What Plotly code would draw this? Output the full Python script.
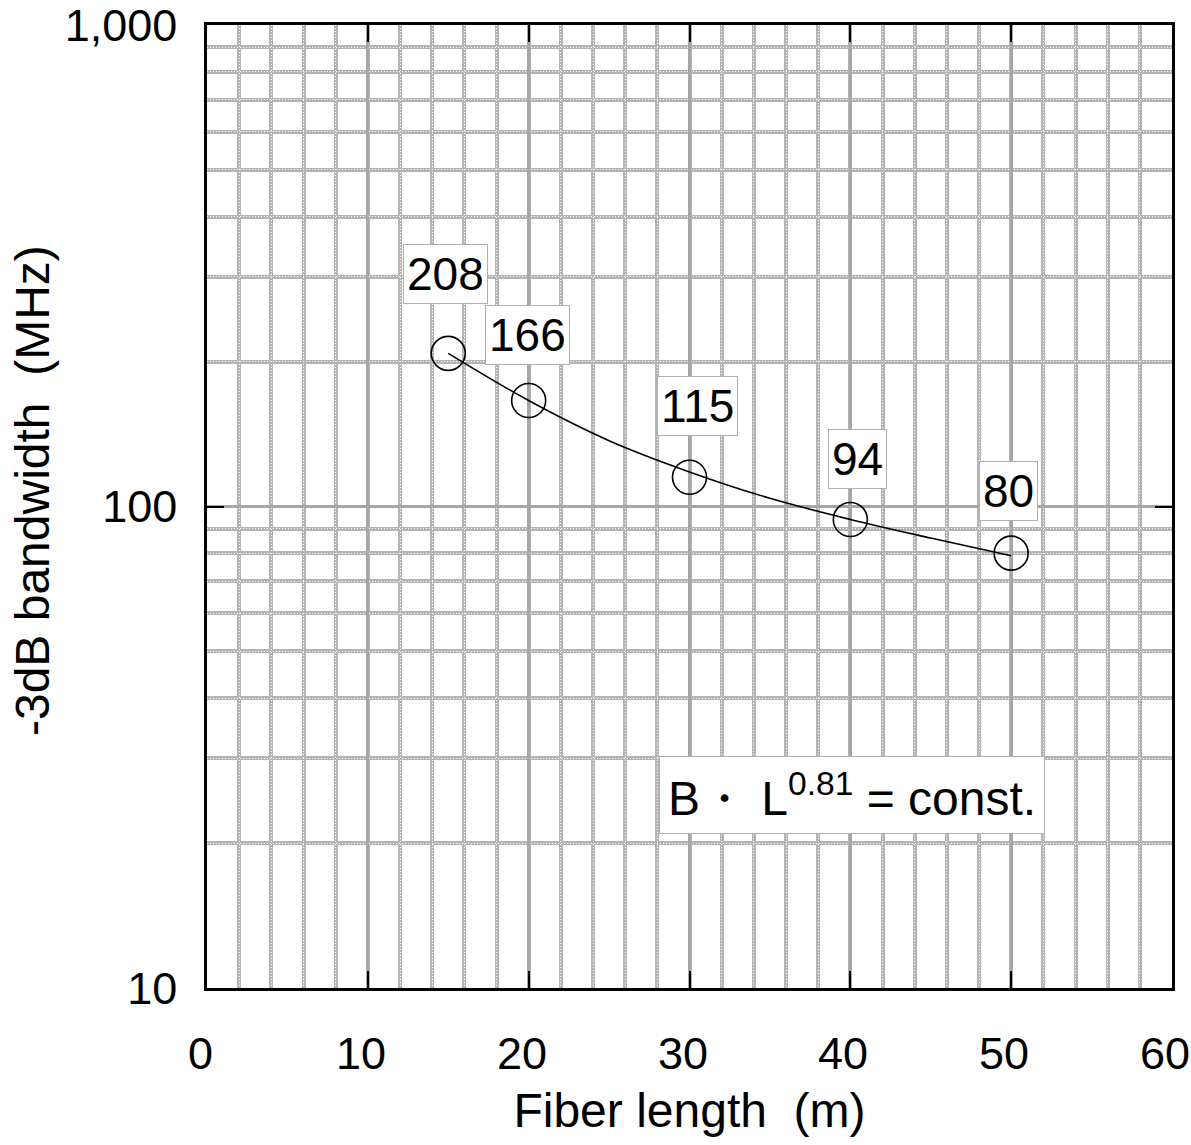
import math
import plotly.graph_objects as go

# Measured bandwidth vs. fiber length
fiber_length_m = [15, 20, 30, 40, 50]
bandwidth_mhz = [208, 166, 115, 94, 80]
point_labels = ["208", "166", "115", "94", "80"]

# Fitted curve B * L^0.81 = const.
fit_length_m = [15, 20, 25, 30, 35, 40, 45, 50]
fit_bandwidth_mhz = [208, 166, 137, 118, 104, 94, 86, 79]

x_tickvals = [0, 10, 20, 30, 40, 50, 60]
x_ticktext = ["0", "10", "20", "30", "40", "50", "60"]
y_tickvals = [10, 100, 1000]
y_ticktext = ["10", "100", "1,000"]
y_minorvals = [20, 30, 40, 50, 60, 70, 80, 90, 200, 300, 400, 500, 600, 700, 800, 900]

# label offsets (px) above each marker
label_dx = [-3, -1, 8, 7, -3]
label_dy = [79, 66, 71, 60, 62]

FONT = "Liberation Sans, Arial, sans-serif"
GRID_MAJOR = "#a6a6a6"
GRID_MINOR = "#b4b4b4"

# plot area in pixels
W, H = 1191, 1145
ML, MR, MT, MB = 207, 19, 25, 157
PW, PH = W - ML - MR, H - MT - MB

fig = go.Figure()

fig.add_trace(go.Scatter(
    x=fit_length_m, y=fit_bandwidth_mhz, mode="lines",
    line=dict(color="black", width=1.6, shape="spline"),
    hoverinfo="skip", showlegend=False,
))
fig.add_trace(go.Scatter(
    x=fiber_length_m, y=bandwidth_mhz, mode="markers",
    marker=dict(symbol="circle-open", size=34, color="black", line=dict(width=1.6, color="black")),
    showlegend=False,
))
# empty trace to carry the overlay axes (white dots on the minor grid)
fig.add_trace(go.Scatter(x=[None], y=[None], xaxis="x2", yaxis="y2", showlegend=False))

for L, B, txt, dx, dy in zip(fiber_length_m, bandwidth_mhz, point_labels, label_dx, label_dy):
    fig.add_annotation(
        x=L, y=math.log10(B), yref="y", xref="x", text=txt, showarrow=False,
        xshift=dx, yshift=dy,
        font=dict(family=FONT, size=46, color="black"),
        bgcolor="white", bordercolor="#b0b0b0", borderwidth=1, borderpad=3,
    )

# x tick labels, set slightly left of their gridlines
for v, t in zip(x_tickvals, x_ticktext):
    fig.add_annotation(
        x=v, y=0, xref="x", yref="paper", text=t, showarrow=False,
        xanchor="center", yanchor="middle", xshift=-7, yshift=-65,
        font=dict(family=FONT, size=45, color="black"),
    )

# y axis title
fig.add_annotation(
    x=(32 - ML) / PW, y=(MT + PH - 491) / PH, xref="paper", yref="paper",
    text="-3dB bandwidth\u00a0\u00a0(MHz)", textangle=-90, showarrow=False,
    xanchor="center", yanchor="middle",
    font=dict(family=FONT, size=48, color="black"),
)

# formula box
fig.add_annotation(
    x=(852 - ML) / PW, y=(MT + PH - 795) / PH,
    xref="paper", yref="paper", text="B\u30fb L<sup>0.81</sup> = const.",
    showarrow=False, xanchor="center", yanchor="middle",
    font=dict(family=FONT, size=48, color="black"),
    bgcolor="white", bordercolor="#b0b0b0", borderwidth=1, borderpad=8,
)

axis_common = dict(
    showline=True, linecolor="black", linewidth=2.5, mirror="ticks",
    ticks="inside", ticklen=17, tickwidth=2, tickcolor="black",
    showgrid=True, gridcolor=GRID_MAJOR, gridwidth=2.5,
    zeroline=False, automargin=False, ticklabeloverflow="allow",
    tickfont=dict(family=FONT, size=45, color="black"),
)

fig.update_layout(
    width=W, height=H,
    margin=dict(l=ML, r=MR, t=MT, b=MB),
    paper_bgcolor="white", plot_bgcolor="white",
    xaxis=dict(
        axis_common, range=[0, 60], tickvals=x_tickvals, showticklabels=False,
        minor=dict(dtick=2, showgrid=True, gridcolor=GRID_MINOR, gridwidth=3.5, ticks=""),
        title=dict(text="Fiber length\u00a0\u00a0(m)", font=dict(family=FONT, size=48, color="black"), standoff=104),
    ),
    yaxis=dict(
        axis_common, type="log", range=[1, 3], tickvals=y_tickvals, ticktext=y_ticktext,
        ticklabelstandoff=18,
        minor=dict(tickmode="array", tickvals=y_minorvals, showgrid=True,
                   gridcolor=GRID_MINOR, gridwidth=3.5, ticks=""),
    ),
    xaxis2=dict(
        overlaying="x", anchor="y2", range=[0, 60], showgrid=False, showline=False,
        showticklabels=False, ticks="", zeroline=False,
        minor=dict(dtick=2, showgrid=True, gridcolor="white", gridwidth=1, griddash="1px,2px", ticks=""),
    ),
    yaxis2=dict(
        overlaying="y", anchor="x2", type="log", range=[1, 3], showgrid=False, showline=False,
        showticklabels=False, ticks="", zeroline=False, tickvals=y_tickvals,
        minor=dict(tickmode="array", tickvals=y_minorvals, showgrid=True,
                   gridcolor="white", gridwidth=1, griddash="1px,2px", ticks=""),
    ),
)

fig.write_html("out.html")
